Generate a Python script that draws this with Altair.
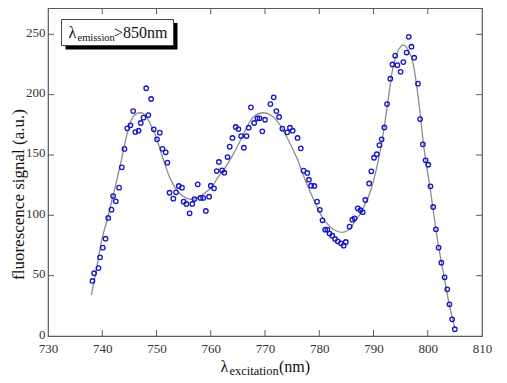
import altair as alt
import pandas as pd

# measured excitation scan (open circles)
exc = [738.2, 738.5, 739.3, 739.6, 740.1, 740.6, 741.1, 741.7, 742.0, 742.5,
       743.1, 743.6, 744.1, 744.6, 745.2, 745.7, 746.1, 746.7, 747.1, 747.6,
       748.1, 748.5, 749.0, 749.5, 750.1, 750.6, 751.1, 751.7, 752.0, 752.4,
       753.1, 753.6, 754.1, 754.7, 755.0, 755.5, 756.1, 756.6, 757.0, 757.6,
       758.1, 758.6, 759.1, 759.7, 760.0, 760.6, 761.1, 761.5, 762.1, 762.5,
       763.1, 763.5, 764.0, 764.6, 765.1, 765.6, 766.1, 766.6, 767.0, 767.4,
       768.0, 768.6, 769.0, 769.5, 770.0, 771.0, 771.6, 772.1, 772.6, 773.2,
       774.1, 774.6, 775.1, 776.0, 776.6, 777.1, 777.8, 778.1, 778.5, 779.1,
       779.6, 780.1, 780.6, 781.1, 781.5, 781.9, 782.4, 782.9, 783.4, 784.0,
       784.5, 784.9, 785.6, 786.1, 786.5, 787.1, 787.6, 788.0, 788.5, 789.2,
       789.6, 790.1, 790.6, 791.1, 791.5, 792.0, 792.5, 793.1, 793.5, 794.0,
       794.4, 795.0, 795.5, 796.1, 796.5, 797.0, 797.5, 798.2, 798.6, 799.1,
       799.6, 800.1, 800.5, 801.0, 801.5, 802.0, 802.5, 803.1, 803.6, 804.0,
       804.5, 805.0]
sig = [45.6, 52.0, 56.3, 65.2, 73.2, 80.6, 97.8, 104.7, 116.0, 111.6,
       122.9, 139.8, 155.0, 172.1, 174.6, 186.4, 169.0, 170.1, 176.5, 180.9,
       205.3, 183.1, 196.4, 171.3, 163.0, 168.5, 155.1, 152.2, 143.6, 118.7,
       113.8, 119.1, 124.3, 122.9, 111.3, 109.4, 101.7, 109.4, 113.5, 125.7,
       114.4, 114.4, 103.6, 115.4, 124.5, 122.4, 136.7, 144.2, 137.3, 135.3,
       148.3, 156.9, 164.1, 173.2, 171.5, 165.7, 156.0, 165.7, 172.6, 189.5,
       176.5, 180.4, 180.4, 169.6, 179.2, 192.2, 197.8, 186.4, 181.5, 171.8,
       168.8, 172.6, 170.1, 164.1, 155.5, 137.0, 135.1, 129.5, 124.5, 124.3,
       111.3, 104.6, 95.9, 88.1, 88.2, 84.9, 83.1, 80.4, 78.5, 76.8,
       74.8, 77.9, 90.6, 96.4, 97.5, 105.8, 104.2, 102.6, 112.7, 126.4,
       136.5, 147.7, 150.6, 158.1, 163.0, 172.8, 192.2, 213.2, 225.0, 232.3,
       224.4, 218.9, 227.0, 234.9, 247.9, 239.7, 230.6, 209.1, 179.8, 158.8,
       145.6, 141.9, 124.0, 106.9, 88.4, 73.2, 60.7, 48.6, 38.7, 26.3,
       13.8, 5.6]

# smooth fit (gray line)
fit_x = [738.0, 739.0, 739.9, 740.9, 741.8, 742.7, 743.6, 744.6, 745.5, 746.4,
         747.0, 747.9, 748.8, 749.8, 750.7, 751.6, 752.5, 753.4, 754.4, 755.6,
         756.5, 757.7, 759.0, 760.2, 761.4, 762.7, 763.9, 765.3, 766.7, 767.9,
         769.7, 771.3, 772.8, 774.3, 775.9, 777.4, 779.0, 780.5, 782.0, 783.2,
         784.2, 785.4, 786.6, 788.1, 789.7, 790.9, 791.8, 792.7, 793.4, 794.0,
         794.6, 795.5, 796.4, 797.3, 797.9, 798.6, 799.2, 799.8, 800.4, 801.0,
         802.0, 802.9, 803.8, 805.0]
fit_y = [34.0, 57.0, 79.5, 96.0, 112.7, 129.3, 147.2, 168.0, 180.4, 184.5,
         185.0, 183.1, 176.3, 166.6, 154.1, 141.7, 130.7, 123.2, 117.7, 114.1,
         113.3, 114.9, 118.7, 123.7, 132.0, 139.8, 148.6, 160.5, 173.4, 181.7,
         185.0, 182.3, 174.8, 162.4, 147.2, 129.3, 112.7, 98.9, 90.6, 87.0,
         85.9, 87.8, 94.7, 105.8, 123.7, 145.8, 168.0, 195.6, 218.0, 230.0,
         237.0, 241.1, 237.0, 226.0, 209.4, 184.5, 159.7, 140.3, 123.7, 104.4,
         74.0, 52.0, 29.8, 6.4]

x_ticks = [730, 740, 750, 760, 770, 780, 790, 800, 810]
y_ticks = [0, 50, 100, 150, 200, 250]
y_title = "fluorescence signal (a.u.)"

W, H = 434, 328
FONT = "Liberation Serif"
FRAME = "#5a5a5a"

xs = alt.Scale(domain=[730, 810], nice=False, zero=False)
ys = alt.Scale(domain=[0, 271.8], nice=False, zero=True)
xa = alt.Axis(values=x_ticks, title=None, labelFlush=False, labelPadding=6)
ya = alt.Axis(values=y_ticks, title=y_title, labelPadding=3, labelOffset=-2,
              titleX=-30, titleY=186, titleBaseline="middle")

pts = pd.DataFrame({"exc": exc, "sig": sig})
fit = pd.DataFrame({"exc": fit_x, "sig": fit_y})
xt = pd.DataFrame({"t": x_ticks[1:-1]})
yt = pd.DataFrame({"t": y_ticks[1:]})

line = alt.Chart(fit).mark_line(color="#8c8c8c", strokeWidth=1.3, interpolate="monotone").encode(
    x=alt.X("exc:Q", scale=xs, axis=xa),
    y=alt.Y("sig:Q", scale=ys, axis=ya),
)
dots = alt.Chart(pts).mark_point(shape="circle", filled=False, color="#1616c4",
                                 size=20, strokeWidth=1.3, opacity=1).encode(
    x=alt.X("exc:Q", scale=xs, axis=xa),
    y=alt.Y("sig:Q", scale=ys, axis=ya),
)

tick_style = dict(color=FRAME, strokeWidth=1)
xt_bot = alt.Chart(xt).mark_rule(**tick_style).encode(
    x=alt.X("t:Q", scale=xs, axis=xa), y=alt.value(H - 6), y2=alt.value(H))
xt_top = alt.Chart(xt).mark_rule(**tick_style).encode(
    x=alt.X("t:Q", scale=xs, axis=xa), y=alt.value(0), y2=alt.value(6))
yt_left = alt.Chart(yt).mark_rule(**tick_style).encode(
    y=alt.Y("t:Q", scale=ys, axis=ya), x=alt.value(0), x2=alt.value(6))
yt_right = alt.Chart(yt).mark_rule(**tick_style).encode(
    y=alt.Y("t:Q", scale=ys, axis=ya), x=alt.value(W - 6), x2=alt.value(W))

one = pd.DataFrame({"a": [0]})

# label box with drop shadow
shadow = alt.Chart(one).mark_rect(color="black").encode(
    x=alt.value(17.5), x2=alt.value(129.5), y=alt.value(15), y2=alt.value(41.5))
box = alt.Chart(one).mark_rect(fill="white", stroke="#444", strokeWidth=1).encode(
    x=alt.value(13.5), x2=alt.value(125.5), y=alt.value(11.5), y2=alt.value(37.5))

def txt(s, x, y, size):
    return alt.Chart(one).mark_text(text=s, font=FONT, fontSize=size, align="left",
                                    baseline="alphabetic", color="#111").encode(
        x=alt.value(x), y=alt.value(y))

lab = [txt("λ", 20.5, 30, 16), txt("emission", 29.5, 32.5, 10.5), txt(">850nm", 66, 30, 16)]
xtitle = [txt("λ", 172.5, 364, 16), txt("excitation", 181.5, 367, 12.5), txt("(nm)", 231, 364, 16)]

chart = alt.layer(line, dots, xt_bot, xt_top, yt_left, yt_right, shadow, box, *lab, *xtitle).properties(
    width=W, height=H,
    autosize=alt.AutoSizeParams(type="none"),
    padding={"left": 40, "top": 0, "right": 17, "bottom": 44},
).configure_view(stroke=FRAME, strokeWidth=1.2).configure_axis(
    domain=False, ticks=False, grid=False,
    labelFont=FONT, labelFontSize=13, labelColor="#333",
    titleFont=FONT, titleFontSize=17, titleFontWeight="normal", titleColor="#111")

chart.save("out.html", embed_options={"renderer": "svg", "actions": False})
